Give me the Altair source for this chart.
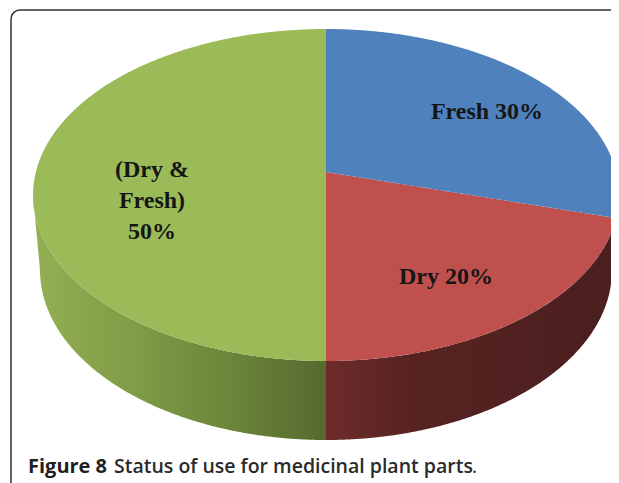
import math
import altair as alt
import pandas as pd

shares = [30, 20, 50]
names = ["Fresh", "Dry", "(Dry & Fresh)"]
top_colors = ["#4f81bd", "#c0504d", "#9bbb59"]

# pie geometry in reference pixels
CX, CY, RX, RY = 326, 195, 293, 166
BCY, BRX, BRY = 270, 286, 170
APEX_Y = 172
TILT = 98 / 108   # foreshortening of the Fresh share's edge

a = math.radians(shares[0] * 3.6 * TILT)
EDGE_X, EDGE_Y = CX + RX * math.sin(a), CY - RY * math.cos(a)


def xs(x0, x1, n=260):
    return [x0 + (x1 - x0) * (1 - math.cos(math.pi * i / n)) / 2 for i in range(n + 1)]


def up(x):
    return CY - RY * math.sqrt(max(0, 1 - ((x - CX) / RX) ** 2))


def low(x):
    return CY + RY * math.sqrt(max(0, 1 - ((x - CX) / RX) ** 2))


def spoke(x):
    return APEX_Y + (EDGE_Y - APEX_Y) * (x - CX) / (EDGE_X - CX)


def base(x):
    d = abs(x - CX)
    if d <= BRX:
        return BCY + BRY * math.sqrt(1 - (d / BRX) ** 2)
    return BCY + (CY - BCY) * (d - BRX) / (RX - BRX)


X = alt.X("x:Q", axis=None, scale=alt.Scale(domain=[8, 611], nice=False, zero=False))
Y = alt.Y("y:Q", axis=None, scale=alt.Scale(domain=[483, 8], nice=False, zero=False))


def area(rows, color):
    return (
        alt.Chart(pd.DataFrame(rows, columns=["x", "y", "y2"]))
        .mark_area(color=color, interpolate="linear", clip=True)
        .encode(x=X, y=Y, y2="y2:Q")
    )


def grad(stops):
    return alt.Gradient(
        gradient="linear",
        x1=0, x2=1, y1=0, y2=0,
        stops=[alt.GradientStop(offset=o, color=c) for o, c in stops],
    )


green_wall = area([(x, low(x), base(x)) for x in xs(CX - RX, CX)],
                  grad([(0, "#93b053"), (0.35, "#7f9c47"), (0.7, "#6a8339"), (1, "#566a2e")]))
red_wall = area([(x, low(x), base(x)) for x in xs(CX, CX + RX)],
                grad([(0, "#6e2b2a"), (0.3, "#562322"), (1, "#4a1f1e")]))
blue_top = area([(x, up(x), spoke(x) if x <= EDGE_X else low(x)) for x in xs(CX, CX + RX)], top_colors[0])
red_top = area([(x, spoke(x), low(x)) for x in xs(CX, EDGE_X)], top_colors[1])
green_top = area([(x, up(x), low(x)) for x in xs(CX - RX, CX)], top_colors[2])

frame = (
    alt.Chart(pd.DataFrame([{"x": 11, "x2": 660, "y": 10, "y2": 540}]))
    .mark_rect(cornerRadius=9, fillOpacity=0, stroke="#333333", strokeWidth=1.5, clip=True)
    .encode(x=X, x2="x2:Q", y=Y, y2="y2:Q")
)

labels = pd.DataFrame(
    [
        {"x": 487, "y": 112, "t": f"{names[0]} {shares[0]}%"},
        {"x": 446, "y": 277, "t": f"{names[1]} {shares[1]}%"},
        {"x": 152, "y": 170, "t": "(Dry &"},
        {"x": 152, "y": 201, "t": "Fresh)"},
        {"x": 152, "y": 232, "t": f"{shares[2]}%"},
    ]
)
label_marks = (
    alt.Chart(labels)
    .mark_text(font="Liberation Serif", fontWeight="bold", fontSize=24, color="#161616",
               align="center", baseline="middle")
    .encode(x=X, y=Y, text="t:N")
)


def caption(x, text, weight, size, color="#1f1f1f"):
    return (
        alt.Chart(pd.DataFrame([{"x": x, "y": 473, "t": text}]))
        .mark_text(font="Open Sans", fontWeight=weight, fontSize=size, color=color,
                   align="left", baseline="alphabetic")
        .encode(x=X, y=Y, text="t:N")
    )


chart = (
    alt.layer(
        frame, green_wall, red_wall, green_top, red_top, blue_top, label_marks,
        caption(28, "Figure 8", 700, 20),
        caption(114, "Status of use for medicinal plant parts", 600, 19.5, "#2a2a2a"),
        caption(472, ".", 400, 19.5, "#2a2a2a"),
    )
    .properties(width=603, height=475, padding=0, autosize="none", background="white")
    .configure_view(stroke=None)
)

chart.save("out.html", embed_options={"renderer": "svg", "actions": False})
